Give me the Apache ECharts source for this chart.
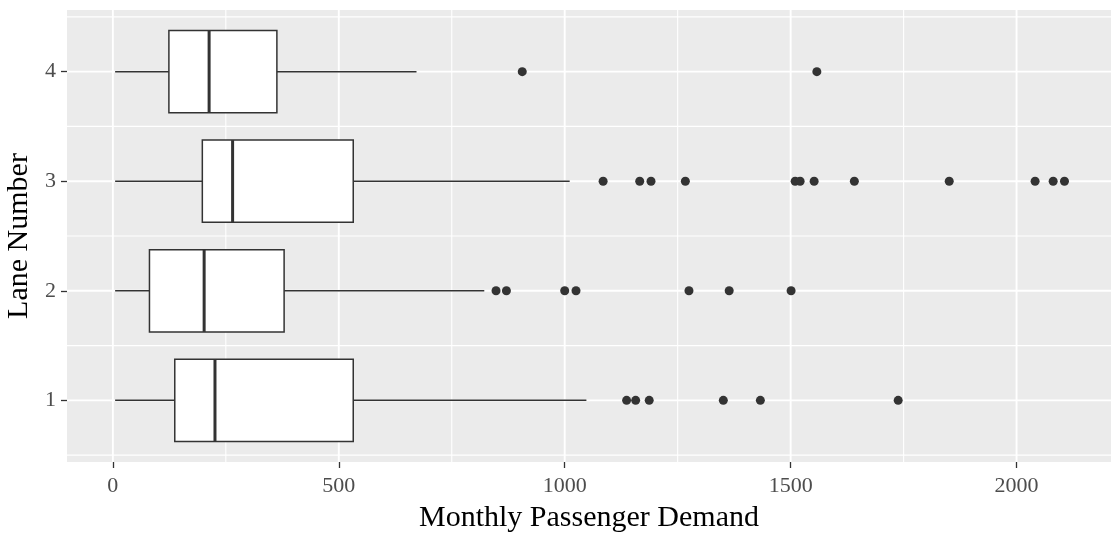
<!DOCTYPE html>
<html>
<head>
<meta charset="utf-8">
<script src="https://cdn.jsdelivr.net/npm/echarts@6/dist/echarts.min.js"></script>
<style>
  html, body { margin: 0; padding: 0; background: #ffffff; }
  #chart { width: 1112px; height: 536px; }
</style>
</head>
<body>
<div id="chart"></div>
<script>
// Lane numbers and their five-number summaries (whisker low, Q1, median, Q3, whisker high)
const lanes = [1, 2, 3, 4];
const whiskerLow = [5, 5, 5, 5];
const q1 = [137, 81, 198, 124];
const median = [226, 202, 265, 213];
const q3 = [532, 379, 532, 363];
const whiskerHigh = [1048, 822, 1011, 672];

// Outlying monthly demand values per lane
const outliersLane1 = [1137, 1157, 1187, 1351, 1433, 1738];
const outliersLane2 = [848, 871, 1000, 1025, 1275, 1364, 1501];
const outliersLane3 = [1085, 1166, 1191, 1267, 1510, 1521, 1552, 1641, 1851, 2041, 2081, 2106];
const outliersLane4 = [906, 1558];

// Axis breaks
const xTicks = [0, 500, 1000, 1500, 2000];
const xMinorTicks = [250, 750, 1250, 1750];
const yTicks = [1, 2, 3, 4];
const yMinorTicks = [0.5, 1.5, 2.5, 3.5, 4.5];

const INK = '#333333';
const FONT = '"Liberation Serif", "DejaVu Serif", serif';

const boxData = lanes.map((lane, i) => [lane, whiskerLow[i], q1[i], median[i], q3[i], whiskerHigh[i]]);
const outlierData = []
  .concat(outliersLane1.map(v => [v, 1]))
  .concat(outliersLane2.map(v => [v, 2]))
  .concat(outliersLane3.map(v => [v, 3]))
  .concat(outliersLane4.map(v => [v, 4]));

// Grid lines: [orientation, value, isMajor]
const gridLines = []
  .concat(xMinorTicks.map(v => ['v', v, 0]))
  .concat(xTicks.map(v => ['v', v, 1]))
  .concat(yMinorTicks.map(v => ['h', v, 0]))
  .concat(yTicks.map(v => ['h', v, 1]));

const chart = echarts.init(document.getElementById('chart'), null, { renderer: 'canvas' });

const option = {
  backgroundColor: '#ffffff',
  animation: false,
  grid: {
    left: 67, right: 1, top: 10, bottom: 74,
    containLabel: false, outerBoundsMode: 'none',
    show: true, backgroundColor: '#EBEBEB', borderWidth: 0
  },
  xAxis: {
    type: 'value',
    min: -101.5,
    max: 2209,
    axisLine: { show: false, onZero: false },
    splitLine: { show: false },
    axisTick: { show: true, customValues: xTicks, length: 6, lineStyle: { color: INK, width: 1.3 } },
    axisLabel: {
      customValues: xTicks, margin: 13, color: '#4D4D4D', fontFamily: FONT, fontSize: 22,
      formatter: v => String(v)
    },
    name: 'Monthly Passenger Demand',
    nameLocation: 'middle',
    nameGap: 41,
    nameTextStyle: { color: '#000000', fontFamily: FONT, fontSize: 30 }
  },
  yAxis: {
    type: 'value',
    min: 0.4375,
    max: 4.5625,
    axisLine: { show: false, onZero: false },
    splitLine: { show: false },
    axisTick: { show: true, customValues: yTicks, length: 6, lineStyle: { color: INK, width: 1.3 } },
    axisLabel: {
      customValues: yTicks, margin: 11, color: '#4D4D4D', fontFamily: FONT, fontSize: 22,
      formatter: v => String(v)
    },
    name: 'Lane Number',
    nameLocation: 'middle',
    nameGap: 31,
    nameRotate: 90,
    nameTextStyle: { color: '#000000', fontFamily: FONT, fontSize: 30 }
  },
  series: [
    {
      // panel grid lines
      type: 'custom',
      z: 1,
      silent: true,
      data: gridLines,
      encode: { x: -1, y: -1 },
      renderItem: function (params, api) {
        const cs = params.coordSys;
        const orient = gridLines[params.dataIndex][0];
        const val = gridLines[params.dataIndex][1];
        const major = gridLines[params.dataIndex][2];
        let shape;
        if (orient === 'v') {
          const x = api.coord([val, 1])[0];
          shape = { x1: x, y1: cs.y, x2: x, y2: cs.y + cs.height };
        } else {
          const y = api.coord([0, val])[1];
          shape = { x1: cs.x, y1: y, x2: cs.x + cs.width, y2: y };
        }
        return {
          type: 'line',
          shape: shape,
          style: { stroke: '#ffffff', lineWidth: major ? 1.9 : 1.1 }
        };
      }
    },
    {
      // box and whiskers
      type: 'custom',
      z: 2,
      data: boxData,
      encode: { x: [1, 2, 3, 4, 5], y: 0 },
      renderItem: function (params, api) {
        const lane = api.value(0);
        const lo = api.coord([api.value(1), lane]);
        const b1 = api.coord([api.value(2), lane]);
        const md = api.coord([api.value(3), lane]);
        const b3 = api.coord([api.value(4), lane]);
        const hi = api.coord([api.value(5), lane]);
        const half = api.size([0, 0.75])[1] / 2;
        const cy = lo[1];
        const lineStyle = { stroke: INK, lineWidth: 1.5 };
        return {
          type: 'group',
          children: [
            { type: 'line', shape: { x1: lo[0], y1: cy, x2: b1[0], y2: cy }, style: lineStyle },
            { type: 'line', shape: { x1: b3[0], y1: cy, x2: hi[0], y2: cy }, style: lineStyle },
            { type: 'rect', shape: { x: b1[0], y: cy - half, width: b3[0] - b1[0], height: half * 2 },
              style: { fill: '#ffffff', stroke: INK, lineWidth: 1.5 } },
            { type: 'line', shape: { x1: md[0], y1: cy - half, x2: md[0], y2: cy + half },
              style: { stroke: INK, lineWidth: 3 } }
          ]
        };
      }
    },
    {
      // outliers
      type: 'scatter',
      z: 3,
      data: outlierData,
      symbol: 'circle',
      symbolSize: 9,
      itemStyle: { color: INK, opacity: 1 }
    }
  ]
};

chart.setOption(option);
</script>
</body>
</html>
